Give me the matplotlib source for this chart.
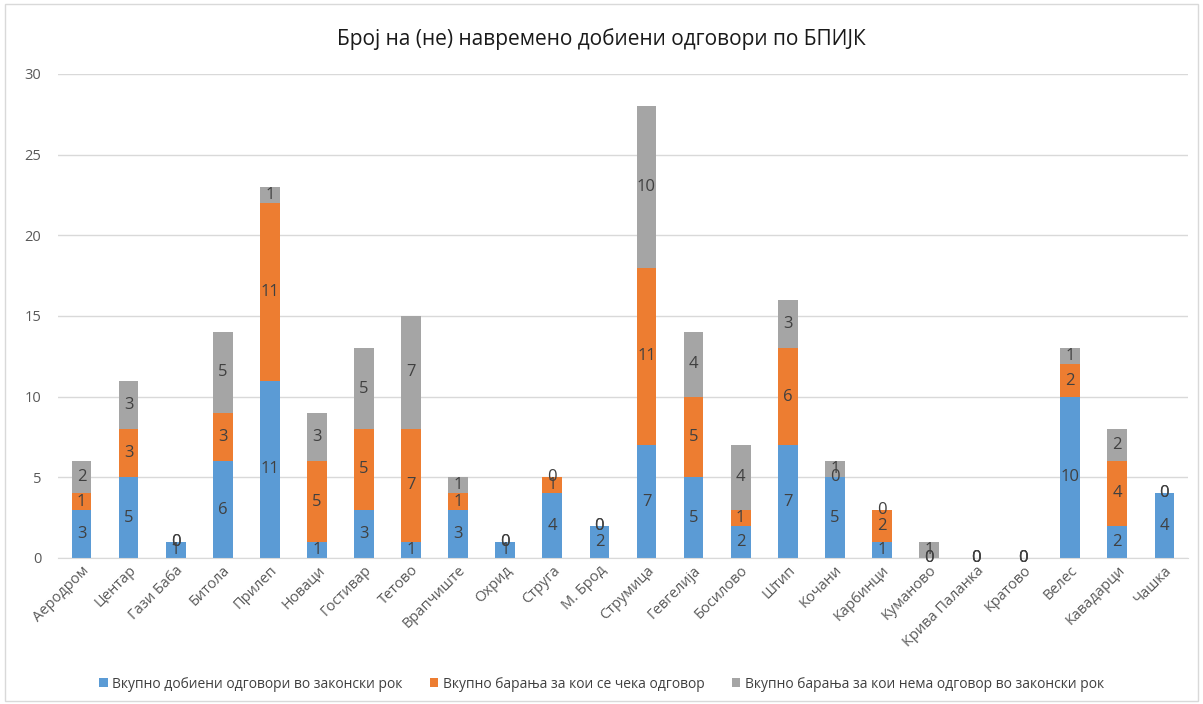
import numpy as np
from matplotlib import pyplot as plt
from matplotlib.patches import Rectangle

plt.rcParams['font.family'] = ['Open Sans', 'DejaVu Sans']

cities = ["Аеродром", "Центар", "Гази Баба", "Битола", "Прилеп", "Новаци", "Гостивар",
          "Тетово", "Врапчиште", "Охрид", "Струга", "М. Брод", "Струмица", "Гевгелија",
          "Босилово", "Штип", "Кочани", "Карбинци", "Куманово", "Крива Паланка",
          "Кратово", "Велес", "Кавадарци", "Чашка"]
on_time = [3, 5, 1, 6, 11, 1, 3, 1, 3, 1, 4, 2, 7, 5, 2, 7, 5, 1, 0, 0, 0, 10, 2, 4]
waiting = [1, 3, 0, 3, 11, 5, 5, 7, 1, 0, 1, 0, 11, 5, 1, 6, 0, 2, 0, 0, 0, 2, 4, 0]
no_answer = [2, 3, 0, 5, 1, 3, 5, 7, 1, 0, 0, 0, 10, 4, 4, 3, 1, 0, 1, 0, 0, 1, 2, 0]
series_names = ["Вкупно добиени одговори во законски рок",
                "Вкупно барања за кои се чека одговор",
                "Вкупно барања за кои нема одговор во законски рок"]
colors = ["#5B9BD5", "#ED7D31", "#A5A5A5"]

fig = plt.figure(figsize=(12.03, 7.04), dpi=100)
ax = fig.add_axes([0.0482, 0.2074, 0.9393, 0.6875])

x = np.arange(len(cities))
bottom = np.zeros(len(cities))
for vals, name, col in zip([on_time, waiting, no_answer], series_names, colors):
    vals = np.array(vals)
    ax.bar(x, vals, 0.42, bottom=bottom, color=col, label=name, zorder=2)
    for xi, b, v in zip(x, bottom, vals):
        ax.text(xi, b + v / 2, str(v), ha='center', va='center',
                fontsize=12, color='#404040', zorder=3)
    bottom = bottom + vals

ax.set_xlim(-0.5, len(cities) - 0.5)
ax.set_ylim(0, 30)
ax.set_yticks(range(0, 31, 5))
ax.grid(axis='y', color='#D9D9D9', linewidth=1, zorder=0)
for s in ['top', 'right', 'left']:
    ax.spines[s].set_visible(False)
ax.spines['bottom'].set_color('#D9D9D9')
ax.tick_params(axis='both', length=0, colors='#595959', labelsize=10.5)
ax.tick_params(axis='y', pad=12)
ax.set_xticks(x)
ax.set_xticklabels(cities, rotation=45, ha='right', rotation_mode='anchor')

fig.text(0.5, 0.945, "Број на (не) навремено добиени одговори по БПИЈК",
         ha='center', va='center', fontsize=15, color='#1a1a1a')

fig.legend(loc='center', bbox_to_anchor=(0.5, 0.028), ncol=3, frameon=False,
           fontsize=10, handlelength=0.6, handleheight=0.6, columnspacing=2.0,
           handletextpad=0.3, labelcolor='#404040')

fig.patches.append(Rectangle((0.004, 0.004), 0.992, 0.99, transform=fig.transFigure,
                             fill=False, edgecolor='#D9D9D9', linewidth=1))

fig.savefig("out.png", dpi=100)
